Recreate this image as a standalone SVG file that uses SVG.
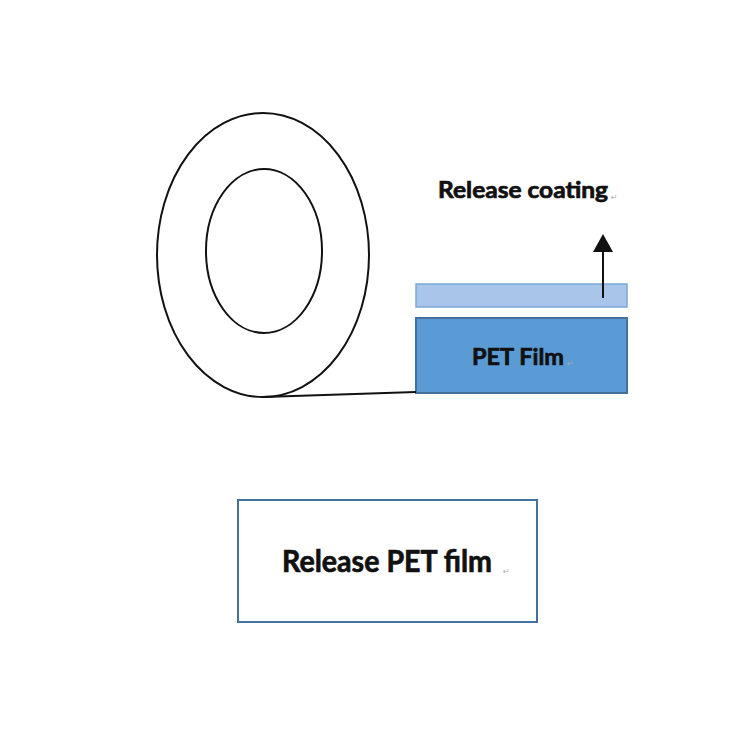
<svg xmlns="http://www.w3.org/2000/svg" width="750" height="750" viewBox="0 0 750 750">
<style>
.t{font-family:Lato,"Open Sans","Liberation Sans",sans-serif;font-weight:bold;fill:#111;stroke:#111;stroke-width:0.7}
.pm{font-family:"DejaVu Sans",sans-serif;fill:#aaa;font-size:8px}
.roll{fill:none;stroke:#111;stroke-width:2}
</style>
<defs>
<marker id="ah" markerWidth="18" markerHeight="20" refX="2" refY="10" orient="auto" markerUnits="userSpaceOnUse" viewBox="0 0 18 20">
<path d="M0,0 L18,10 L0,20 Z" fill="#111"/>
</marker>
</defs>
<rect width="750" height="750" fill="#fff"/>
<g id="roll">
<ellipse class="roll" cx="263" cy="255" rx="106" ry="142"/>
<ellipse class="roll" cx="264" cy="251" rx="58" ry="82"/>
</g>
<g id="coating">
<rect x="416" y="284" width="211" height="23" fill="#a9c5ea" stroke="#7ea6d8" stroke-width="1.5"/>
</g>
<g id="pet">
<rect x="416" y="318" width="211" height="75" fill="#5b9bd5" stroke="#41719c" stroke-width="2"/>
<text class="t" x="472" y="365" font-size="23.5" textLength="92" lengthAdjust="spacingAndGlyphs">PET Film</text>
<text class="pm" x="567" y="366">↵</text>
</g>
<g id="label-coating">
<text class="t" x="438" y="198" font-size="22" textLength="170" lengthAdjust="spacingAndGlyphs">Release coating</text>
<text class="pm" x="611" y="200">↵</text>
</g>
<g id="label-box">
<rect x="238" y="500" width="299" height="122" fill="#fff" stroke="#41719c" stroke-width="2"/>
<text class="t" x="282" y="572" font-size="30" textLength="210" lengthAdjust="spacingAndGlyphs">Release PET film</text>
<text class="pm" x="503" y="574">↵</text>
</g>
<g id="connectors">
<path d="M263,397 L416,392" fill="none" stroke="#111" stroke-width="2"/>
<path d="M603,298 L603,250" fill="none" stroke="#111" stroke-width="2" marker-end="url(#ah)"/>
</g>
</svg>
